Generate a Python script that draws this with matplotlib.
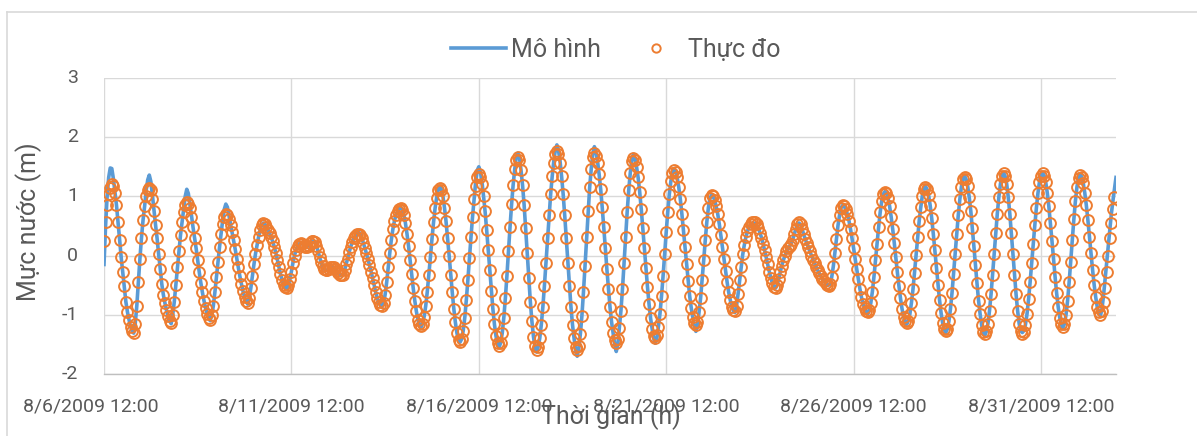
import numpy as np
import pandas as pd
import matplotlib
matplotlib.use("Agg")
import matplotlib.pyplot as plt
import matplotlib.transforms as mtransforms
from matplotlib.lines import Line2D

plt.rcParams['font.family'] = ['Roboto', 'DejaVu Sans']

# hourly series starting 8/6/2009 12:00
start = pd.Timestamp('2009-08-06 12:00')

observed = [
    0.25, 0.57, 0.85, 1.04, 1.15, 1.21, 1.18, 1.06, 0.85, 0.57,
    0.27, -0.03, -0.28, -0.52, -0.78, -0.95, -1.08, -1.20, -1.27, -1.30,
    -1.15, -0.85, -0.45, -0.05, 0.30, 0.60, 0.83, 1.00, 1.10, 1.14,
    1.10, 0.95, 0.75, 0.52, 0.29, 0.02, -0.22, -0.48, -0.66, -0.80,
    -0.92, -1.02, -1.10, -1.14, -1.00, -0.78, -0.50, -0.20, 0.08, 0.35,
    0.57, 0.74, 0.86, 0.91, 0.88, 0.80, 0.66, 0.48, 0.30, 0.12,
    -0.08, -0.28, -0.46, -0.62, -0.76, -0.88, -0.98, -1.05, -1.08, -1.00,
    -0.85, -0.62, -0.36, -0.10, 0.15, 0.37, 0.54, 0.65, 0.71, 0.69,
    0.62, 0.52, 0.40, 0.26, 0.11, -0.05, -0.20, -0.35, -0.48, -0.60,
    -0.70, -0.77, -0.80, -0.72, -0.55, -0.35, -0.15, 0.03, 0.18, 0.32,
    0.44, 0.52, 0.55, 0.53, 0.49, 0.44, 0.38, 0.31, 0.24, 0.15,
    0.05, -0.07, -0.19, -0.31, -0.41, -0.49, -0.53, -0.55, -0.50, -0.40,
    -0.27, -0.12, 0.00, 0.10, 0.16, 0.20, 0.21, 0.20, 0.17, 0.15,
    0.15, 0.17, 0.21, 0.24, 0.25, 0.23, 0.17, 0.08, -0.02, -0.11,
    -0.18, -0.23, -0.25, -0.25, -0.23, -0.20, -0.19, -0.20, -0.22, -0.26,
    -0.30, -0.33, -0.33, -0.32, -0.25, -0.15, -0.05, 0.06, 0.15, 0.23,
    0.29, 0.33, 0.36, 0.37, 0.35, 0.30, 0.22, 0.13, 0.04, -0.06,
    -0.16, -0.27, -0.38, -0.50, -0.62, -0.72, -0.79, -0.84, -0.85, -0.80,
    -0.66, -0.45, -0.20, 0.05, 0.27, 0.45, 0.59, 0.69, 0.75, 0.79,
    0.80, 0.77, 0.69, 0.55, 0.37, 0.16, -0.08, -0.31, -0.55, -0.76,
    -0.94, -1.08, -1.16, -1.19, -1.15, -1.03, -0.85, -0.61, -0.33, -0.03,
    0.28, 0.56, 0.80, 0.98, 1.10, 1.14, 1.10, 1.01, 0.81, 0.58,
    0.30, 0.00, -0.32, -0.62, -0.90, -1.13, -1.31, -1.42, -1.46, -1.41,
    -1.27, -1.05, -0.75, -0.41, -0.04, 0.32, 0.66, 0.96, 1.18, 1.32,
    1.37, 1.33, 1.21, 1.01, 0.75, 0.44, 0.10, -0.25, -0.59, -0.90,
    -1.16, -1.36, -1.48, -1.52, -1.47, -1.31, -1.05, -0.72, -0.34, 0.08,
    0.49, 0.87, 1.20, 1.46, 1.62, 1.67, 1.61, 1.45, 1.19, 0.86,
    0.46, 0.04, -0.38, -0.78, -1.11, -1.37, -1.53, -1.59, -1.54, -1.40,
    -1.17, -0.87, -0.51, -0.12, 0.29, 0.68, 1.04, 1.34, 1.57, 1.71,
    1.76, 1.71, 1.57, 1.34, 1.04, 0.68, 0.29, -0.12, -0.51, -0.87,
    -1.17, -1.40, -1.54, -1.59, -1.52, -1.33, -1.02, -0.62, -0.17, 0.31,
    0.76, 1.16, 1.47, 1.66, 1.73, 1.69, 1.57, 1.38, 1.13, 0.82,
    0.48, 0.13, -0.23, -0.56, -0.87, -1.12, -1.31, -1.43, -1.47, -1.41,
    -1.22, -0.93, -0.56, -0.13, 0.31, 0.74, 1.11, 1.40, 1.59, 1.65,
    1.61, 1.50, 1.32, 1.08, 0.79, 0.47, 0.13, -0.21, -0.53, -0.82,
    -1.06, -1.24, -1.35, -1.39, -1.34, -1.20, -0.98, -0.68, -0.34, 0.03,
    0.40, 0.74, 1.04, 1.26, 1.40, 1.45, 1.42, 1.32, 1.16, 0.96,
    0.71, 0.43, 0.14, -0.15, -0.43, -0.68, -0.88, -1.04, -1.14, -1.17,
    -1.12, -0.96, -0.72, -0.41, -0.08, 0.26, 0.57, 0.81, 0.97, 1.02,
    1.00, 0.94, 0.83, 0.70, 0.53, 0.34, 0.14, -0.06, -0.26, -0.45,
    -0.62, -0.75, -0.86, -0.92, -0.94, -0.85, -0.65, -0.42, -0.20, 0.02,
    0.18, 0.31, 0.41, 0.48, 0.53, 0.56, 0.57, 0.56, 0.53, 0.47,
    0.39, 0.30, 0.20, 0.09, -0.03, -0.15, -0.27, -0.38, -0.47, -0.53,
    -0.55, -0.50, -0.40, -0.28, -0.17, -0.08, 0.00, 0.07, 0.12, 0.16,
    0.20, 0.27, 0.36, 0.45, 0.53, 0.57, 0.53, 0.45, 0.36, 0.28,
    0.21, 0.14, 0.07, 0.00, -0.07, -0.13, -0.19, -0.25, -0.30, -0.35,
    -0.39, -0.43, -0.47, -0.50, -0.52, -0.48, -0.36, -0.18, 0.05, 0.28,
    0.51, 0.69, 0.81, 0.85, 0.83, 0.78, 0.70, 0.59, 0.45, 0.29,
    0.12, -0.06, -0.23, -0.40, -0.56, -0.70, -0.81, -0.89, -0.94, -0.96,
    -0.92, -0.80, -0.61, -0.36, -0.08, 0.20, 0.48, 0.73, 0.92, 1.04,
    1.08, 1.05, 0.97, 0.84, 0.66, 0.45, 0.22, -0.03, -0.28, -0.51,
    -0.72, -0.90, -1.03, -1.11, -1.14, -1.10, -0.99, -0.80, -0.57, -0.29,
    0.01, 0.31, 0.59, 0.82, 1.01, 1.12, 1.16, 1.12, 1.02, 0.85,
    0.63, 0.37, 0.09, -0.21, -0.49, -0.75, -0.97, -1.14, -1.24, -1.28,
    -1.24, -1.11, -0.90, -0.63, -0.31, 0.03, 0.36, 0.68, 0.95, 1.16,
    1.29, 1.33, 1.29, 1.18, 0.99, 0.76, 0.47, 0.16, -0.16, -0.47,
    -0.76, -0.99, -1.18, -1.29, -1.33, -1.28, -1.15, -0.93, -0.65, -0.32,
    0.03, 0.38, 0.71, 0.99, 1.21, 1.34, 1.39, 1.34, 1.21, 0.99,
    0.71, 0.38, 0.03, -0.32, -0.65, -0.93, -1.15, -1.28, -1.33, -1.29,
    -1.17, -0.99, -0.74, -0.45, -0.13, 0.19, 0.51, 0.80, 1.05, 1.24,
    1.35, 1.39, 1.35, 1.24, 1.06, 0.83, 0.55, 0.25, -0.06, -0.36,
    -0.64, -0.87, -1.05, -1.16, -1.20, -1.15, -1.00, -0.76, -0.45, -0.10,
    0.26, 0.61, 0.92, 1.16, 1.31, 1.36, 1.32, 1.23, 1.06, 0.85,
    0.60, 0.32, 0.04, -0.24, -0.49, -0.70, -0.87, -0.96, -1.00, -0.93,
    -0.78, -0.55, -0.28, 0.00, 0.30, 0.55, 0.78, 0.99,
]

model = [
    -0.15, 0.50, 1.00, 1.32, 1.48, 1.47, 1.30, 1.08, 0.85, 0.57,
    0.27, -0.03, -0.28, -0.52, -0.78, -0.95, -1.08, -1.20, -1.27, -1.31,
    -1.15, -0.85, -0.45, -0.05, 0.30, 0.60, 0.83, 1.10, 1.28, 1.36,
    1.25, 1.02, 0.77, 0.52, 0.29, 0.02, -0.22, -0.48, -0.66, -0.80,
    -0.92, -1.02, -1.10, -1.15, -1.00, -0.78, -0.50, -0.20, 0.08, 0.35,
    0.57, 0.80, 1.00, 1.12, 1.05, 0.87, 0.68, 0.48, 0.30, 0.12,
    -0.08, -0.28, -0.46, -0.62, -0.76, -0.88, -0.98, -1.05, -1.10, -1.00,
    -0.85, -0.62, -0.36, -0.10, 0.15, 0.37, 0.60, 0.78, 0.87, 0.82,
    0.68, 0.54, 0.40, 0.26, 0.11, -0.05, -0.20, -0.35, -0.48, -0.60,
    -0.70, -0.77, -0.82, -0.72, -0.55, -0.35, -0.15, 0.03, 0.18, 0.32,
    0.44, 0.52, 0.55, 0.53, 0.49, 0.44, 0.38, 0.31, 0.24, 0.15,
    0.05, -0.07, -0.19, -0.31, -0.41, -0.49, -0.53, -0.55, -0.50, -0.40,
    -0.27, -0.12, 0.00, 0.10, 0.16, 0.20, 0.21, 0.20, 0.17, 0.15,
    0.15, 0.17, 0.21, 0.24, 0.25, 0.23, 0.17, 0.08, -0.02, -0.11,
    -0.18, -0.23, -0.25, -0.25, -0.23, -0.20, -0.19, -0.20, -0.22, -0.26,
    -0.30, -0.33, -0.33, -0.32, -0.25, -0.15, -0.05, 0.06, 0.15, 0.23,
    0.29, 0.33, 0.38, 0.40, 0.37, 0.30, 0.22, 0.13, 0.04, -0.06,
    -0.16, -0.27, -0.38, -0.50, -0.62, -0.72, -0.79, -0.84, -0.87, -0.80,
    -0.66, -0.45, -0.20, 0.05, 0.27, 0.45, 0.59, 0.69, 0.75, 0.80,
    0.82, 0.77, 0.69, 0.55, 0.37, 0.16, -0.08, -0.31, -0.55, -0.76,
    -0.94, -1.08, -1.17, -1.21, -1.15, -1.03, -0.85, -0.61, -0.33, -0.03,
    0.28, 0.56, 0.80, 0.98, 1.12, 1.17, 1.12, 1.01, 0.81, 0.58,
    0.30, 0.00, -0.32, -0.62, -0.90, -1.13, -1.31, -1.42, -1.46, -1.41,
    -1.27, -1.05, -0.75, -0.41, -0.04, 0.32, 0.66, 0.96, 1.25, 1.44,
    1.50, 1.42, 1.25, 1.01, 0.75, 0.44, 0.10, -0.25, -0.59, -0.90,
    -1.16, -1.36, -1.49, -1.55, -1.47, -1.31, -1.05, -0.72, -0.34, 0.08,
    0.49, 0.87, 1.20, 1.46, 1.67, 1.73, 1.66, 1.45, 1.19, 0.86,
    0.46, 0.04, -0.38, -0.78, -1.11, -1.37, -1.55, -1.63, -1.54, -1.40,
    -1.17, -0.87, -0.51, -0.12, 0.29, 0.68, 1.04, 1.34, 1.60, 1.78,
    1.87, 1.78, 1.60, 1.34, 1.04, 0.68, 0.29, -0.12, -0.51, -0.87,
    -1.17, -1.40, -1.60, -1.70, -1.57, -1.33, -1.02, -0.62, -0.17, 0.31,
    0.76, 1.16, 1.47, 1.72, 1.84, 1.75, 1.60, 1.38, 1.13, 0.82,
    0.48, 0.13, -0.23, -0.56, -0.87, -1.12, -1.31, -1.50, -1.62, -1.50,
    -1.22, -0.93, -0.56, -0.13, 0.31, 0.74, 1.11, 1.40, 1.62, 1.71,
    1.64, 1.50, 1.32, 1.08, 0.79, 0.47, 0.13, -0.21, -0.53, -0.82,
    -1.06, -1.24, -1.40, -1.48, -1.40, -1.20, -0.98, -0.68, -0.34, 0.03,
    0.40, 0.74, 1.04, 1.26, 1.41, 1.47, 1.42, 1.32, 1.16, 0.96,
    0.71, 0.43, 0.14, -0.15, -0.43, -0.68, -0.88, -1.04, -1.20, -1.28,
    -1.18, -0.96, -0.72, -0.41, -0.08, 0.26, 0.57, 0.81, 0.97, 1.02,
    1.00, 0.94, 0.83, 0.70, 0.53, 0.34, 0.14, -0.06, -0.26, -0.45,
    -0.62, -0.75, -0.86, -0.93, -0.96, -0.85, -0.65, -0.42, -0.20, 0.02,
    0.18, 0.31, 0.41, 0.48, 0.53, 0.55, 0.55, 0.54, 0.51, 0.46,
    0.39, 0.30, 0.20, 0.09, -0.03, -0.15, -0.27, -0.38, -0.47, -0.53,
    -0.55, -0.50, -0.40, -0.28, -0.17, -0.08, 0.00, 0.07, 0.12, 0.16,
    0.20, 0.27, 0.36, 0.45, 0.52, 0.55, 0.52, 0.45, 0.36, 0.28,
    0.21, 0.14, 0.07, 0.00, -0.07, -0.13, -0.19, -0.25, -0.30, -0.35,
    -0.39, -0.43, -0.47, -0.49, -0.50, -0.48, -0.36, -0.18, 0.05, 0.28,
    0.51, 0.69, 0.81, 0.85, 0.83, 0.78, 0.70, 0.59, 0.45, 0.29,
    0.12, -0.06, -0.23, -0.40, -0.56, -0.70, -0.81, -0.89, -0.95, -0.99,
    -0.92, -0.80, -0.61, -0.36, -0.08, 0.20, 0.48, 0.73, 0.92, 1.04,
    1.08, 1.05, 0.97, 0.84, 0.66, 0.45, 0.22, -0.03, -0.28, -0.51,
    -0.72, -0.90, -1.03, -1.12, -1.16, -1.10, -0.99, -0.80, -0.57, -0.29,
    0.01, 0.31, 0.59, 0.82, 1.01, 1.13, 1.17, 1.12, 1.02, 0.85,
    0.63, 0.37, 0.09, -0.21, -0.49, -0.75, -0.97, -1.14, -1.25, -1.30,
    -1.24, -1.11, -0.90, -0.63, -0.31, 0.03, 0.36, 0.68, 0.95, 1.16,
    1.30, 1.35, 1.29, 1.18, 0.99, 0.76, 0.47, 0.16, -0.16, -0.47,
    -0.76, -0.99, -1.18, -1.30, -1.35, -1.28, -1.15, -0.93, -0.65, -0.32,
    0.03, 0.38, 0.71, 0.99, 1.21, 1.35, 1.40, 1.34, 1.21, 0.99,
    0.71, 0.38, 0.03, -0.32, -0.65, -0.93, -1.15, -1.27, -1.30, -1.27,
    -1.17, -0.99, -0.74, -0.45, -0.13, 0.19, 0.51, 0.80, 1.05, 1.25,
    1.36, 1.40, 1.35, 1.24, 1.06, 0.83, 0.55, 0.25, -0.06, -0.36,
    -0.64, -0.87, -1.05, -1.17, -1.22, -1.15, -1.00, -0.76, -0.45, -0.10,
    0.26, 0.61, 0.92, 1.16, 1.32, 1.38, 1.33, 1.23, 1.06, 0.85,
    0.60, 0.32, 0.04, -0.24, -0.49, -0.70, -0.87, -0.97, -1.02, -0.90,
    -0.68, -0.40, -0.10, 0.18, 0.45, 0.70, 0.92, 1.12, 1.32,
]

tick_days = [0, 5, 10, 15, 20, 25]
tick_labels = ['8/6/2009 12:00', '8/11/2009 12:00', '8/16/2009 12:00',
               '8/21/2009 12:00', '8/26/2009 12:00', '8/31/2009 12:00']
y_ticks = [-2, -1, 0, 1, 2, 3]

t_obs = pd.date_range(start, periods=len(observed), freq='h')
t_mod = pd.date_range(start, periods=len(model), freq='h')

fig = plt.figure(figsize=(11.97, 4.36), dpi=100)
ax = fig.add_axes([104 / 1197, 1 - 374 / 436, (1116 - 104) / 1197, (374 - 78) / 436])

ax.plot(t_mod, model, color='#5B9BD5', lw=2.6, label='Mô hình', zorder=3)
ax.plot(t_obs, observed, ls='none', marker='o', ms=7.8, mfc='none', mec='#ED7D31',
        mew=1.4, label='Thực đo', zorder=4)

ax.set_xlim(start, start + pd.Timedelta(days=27))
ax.set_ylim(-2, 3)
ax.set_yticks(y_ticks)
ax.set_yticklabels([])
ax.set_xticks([start + pd.Timedelta(days=d) for d in tick_days])
ax.set_xticklabels(tick_labels)

ax.grid(True, color='#D9D9D9', lw=1.0, zorder=0)
for s in ['top', 'right', 'left']:
    ax.spines[s].set_visible(False)
ax.spines['bottom'].set_color('#BFBFBF')
ax.spines['bottom'].set_linewidth(1.0)
ax.tick_params(axis='x', length=0, pad=17, labelsize=14, colors='#595959')
ax.tick_params(axis='y', length=0)

# y tick labels, set 26 px left of the plot area like the Excel chart
ytrans = mtransforms.offset_copy(ax.get_yaxis_transform(), fig=fig, x=-26, y=0, units='dots')
for v in y_ticks:
    ax.text(0, v, str(v), transform=ytrans, ha='right', va='center',
            fontsize=14, color='#595959')

# first date label sits a little left of its gridline in the reference
first = ax.get_xticklabels()[0]
first.set_transform(first.get_transform() +
                    mtransforms.ScaledTranslation(-0.13, 0, fig.dpi_scale_trans))

fig.text(29 / 1197, 1 - 222 / 436, 'Mực nước (m)', rotation=90, ha='center',
         va='center', fontsize=18, color='#595959')
fig.text(611 / 1197, 1 - 424 / 436, 'Thời gian (h)', ha='center', va='baseline',
         fontsize=18, color='#595959')

handles = [Line2D([], [], color='#5B9BD5', lw=2.6),
           Line2D([], [], ls='none', marker='o', ms=6, mfc='none', mec='#ED7D31', mew=1.4)]
leg = fig.legend(handles, ['Mô hình', 'Thực đo'], loc='center', ncol=2,
                 bbox_to_anchor=(616 / 1197, 1 - 50 / 436), frameon=False,
                 fontsize=18, handlelength=2.2, handletextpad=0.2,
                 columnspacing=1.1, borderpad=0)
for txt in leg.get_texts():
    txt.set_color('#595959')

# outer chart border
fig.add_artist(Line2D([7 / 1197, 7 / 1197], [0, 1 - 12 / 436], color='#D9D9D9', lw=1.2))
fig.add_artist(Line2D([7 / 1197, 1], [1 - 12 / 436, 1 - 12 / 436], color='#D9D9D9', lw=1.2))

fig.savefig('out.png', dpi=100)
